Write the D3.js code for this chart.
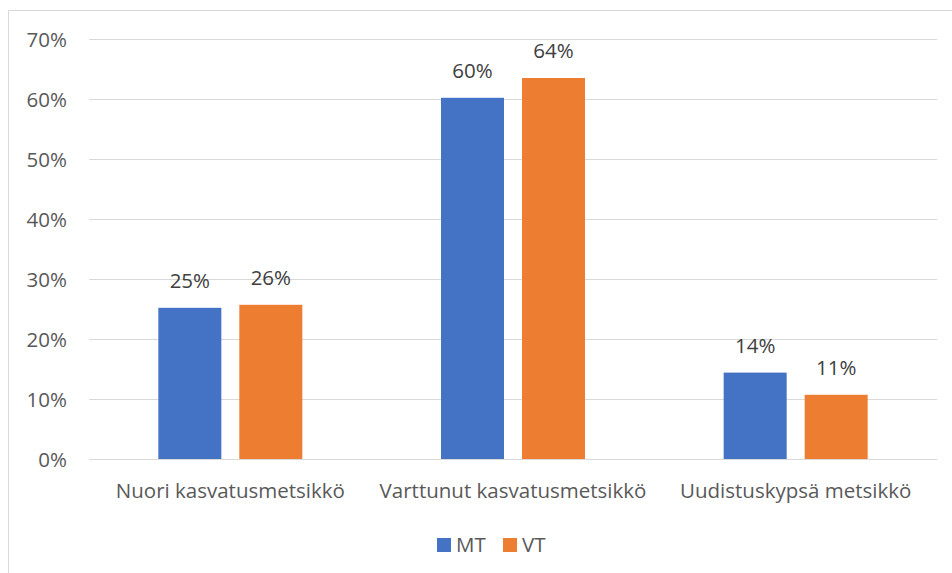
<!DOCTYPE html>
<html>
<head>
<meta charset="utf-8">
<script src="https://cdn.jsdelivr.net/npm/d3@7"></script>
<style>
  body { margin: 0; background: #fff; }
  svg text { font-family: "Open Sans", "Noto Sans", sans-serif; }
</style>
</head>
<body>
<svg id="chart" width="952" height="573"></svg>
<script>
// data
var categories = ["Nuori kasvatusmetsikkö", "Varttunut kasvatusmetsikkö", "Uudistuskypsä metsikkö"];
var seriesNames = ["MT", "VT"];
var mtValues = [0.252, 0.602, 0.144];
var vtValues = [0.257, 0.635, 0.107];
var labelsMT = ["25%", "60%", "14%"];
var labelsVT = ["26%", "64%", "11%"];
var yTicks = [0, 0.1, 0.2, 0.3, 0.4, 0.5, 0.6, 0.7];

var colors = {MT: "#4472c4", VT: "#ed7d31"};
var fontSize = "20.5px";

var svg = d3.select("#chart");

// chart border (only top + left visible in the screenshot)
svg.append("path")
    .attr("d", "M8.5,573 V10.5 H952")
    .attr("fill", "none")
    .attr("stroke", "#d9d9d9")
    .attr("stroke-width", 1);

var margin = {left: 89, right: 937, top: 39, bottom: 459};

var x = d3.scaleBand()
    .domain(categories)
    .range([margin.left, margin.right])
    .paddingInner(0)
    .paddingOuter(0);

var y = d3.scaleLinear()
    .domain([0, 0.7])
    .range([margin.bottom, margin.top]);

var barW = 63, barGap = 18;

// gridlines
svg.append("g")
    .selectAll("line")
    .data(yTicks)
    .enter().append("line")
    .attr("x1", margin.left)
    .attr("x2", margin.right)
    .attr("y1", function(d) { return Math.round(y(d)) + 0.5; })
    .attr("y2", function(d) { return Math.round(y(d)) + 0.5; })
    .attr("stroke", "#d9d9d9")
    .attr("stroke-width", 1);

// y labels
var yAxis = d3.axisLeft(y)
    .tickValues(yTicks)
    .tickFormat(d3.format(".0%"))
    .tickSize(0)
    .tickPadding(0);

var ya = svg.append("g")
    .attr("transform", "translate(67,0)")
    .call(yAxis);
ya.select(".domain").remove();
ya.selectAll("text")
    .attr("fill", "#595959")
    .style("font-size", fontSize)
    .attr("dy", "0.35em");

// x labels
var xAxis = d3.axisBottom(x).tickSize(0).tickPadding(0);
var xa = svg.append("g")
    .attr("transform", "translate(0,498)")
    .call(xAxis);
xa.select(".domain").remove();
xa.selectAll("text")
    .attr("fill", "#595959")
    .style("font-size", fontSize)
    .attr("dy", 0);

// bars
var rows = categories.map(function(c, i) {
    return {cat: c, MT: mtValues[i], VT: vtValues[i], lMT: labelsMT[i], lVT: labelsVT[i]};
});

function barX(d, s) {
    var center = x(d.cat) + x.bandwidth() / 2;
    var total = barW * 2 + barGap;
    var start = center - total / 2;
    return s === "MT" ? start : start + barW + barGap;
}

seriesNames.forEach(function(s) {
    var g = svg.append("g");
    g.selectAll("rect")
        .data(rows)
        .enter().append("rect")
        .attr("x", function(d) { return barX(d, s); })
        .attr("width", barW)
        .attr("y", function(d) { return y(d[s]); })
        .attr("height", function(d) { return y(0) - y(d[s]); })
        .attr("fill", colors[s]);

    g.selectAll("text")
        .data(rows)
        .enter().append("text")
        .attr("x", function(d) { return barX(d, s) + barW / 2; })
        .attr("y", function(d) { return y(d[s]) - 20; })
        .attr("text-anchor", "middle")
        .attr("fill", "#404040")
        .style("font-size", fontSize)
        .text(function(d) { return d["l" + s]; });
});

// legend
var legend = svg.append("g").attr("transform", "translate(437,538)");
var items = [{name: "MT", x: 0}, {name: "VT", x: 66}];
var li = legend.selectAll("g")
    .data(items)
    .enter().append("g")
    .attr("transform", function(d) { return "translate(" + d.x + ",0)"; });
li.append("rect")
    .attr("width", 14)
    .attr("height", 14)
    .attr("fill", function(d) { return colors[d.name]; });
li.append("text")
    .attr("x", 19)
    .attr("y", 14)
    .attr("fill", "#595959")
    .style("font-size", fontSize)
    .text(function(d) { return d.name; });
</script>
</body>
</html>
